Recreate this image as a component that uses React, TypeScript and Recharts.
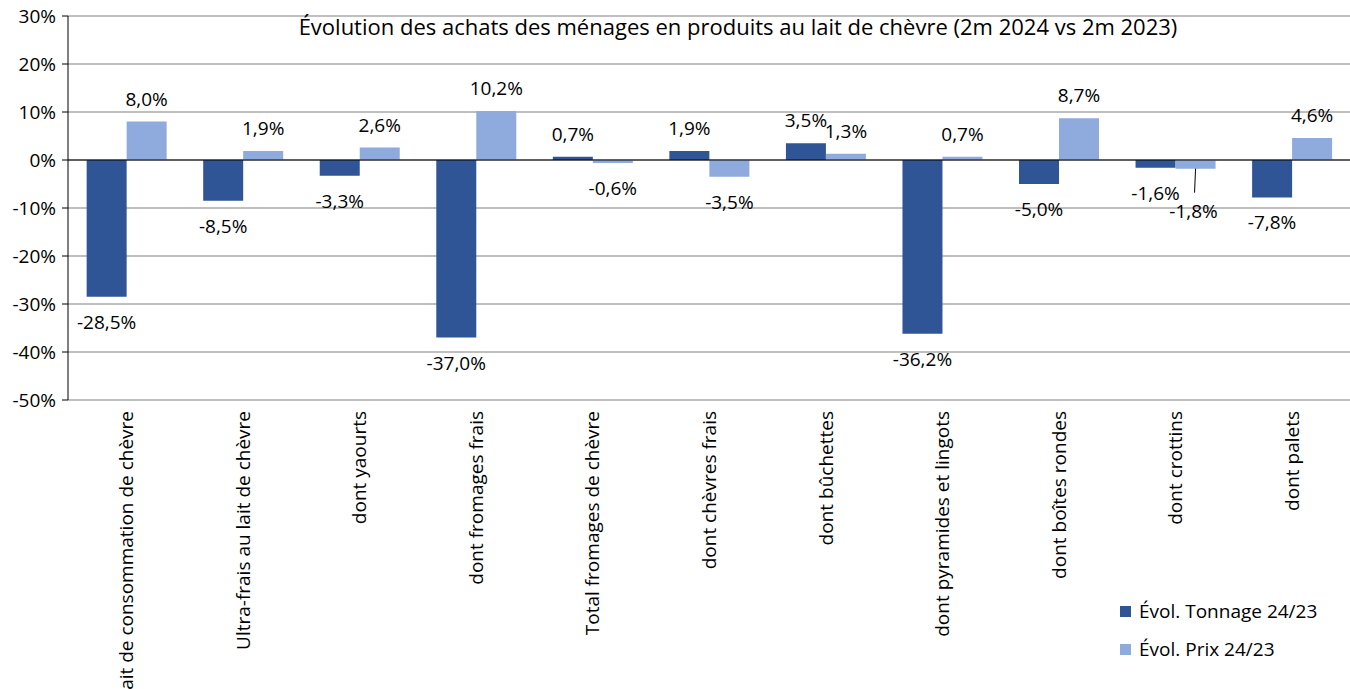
import { Bar, BarChart, CartesianGrid, LabelList, ReferenceLine, XAxis, YAxis } from "recharts";

const categories = [
  "Lait de consommation de chèvre",
  "Ultra-frais au lait de chèvre",
  "dont yaourts",
  "dont fromages frais",
  "Total fromages de chèvre",
  "dont chèvres frais",
  "dont bûchettes",
  "dont pyramides et lingots",
  "dont boîtes rondes",
  "dont crottins",
  "dont palets",
];
const tonnage = [-28.5, -8.5, -3.3, -37.0, 0.7, 1.9, 3.5, -36.2, -5.0, -1.6, -7.8];
const prix = [8.0, 1.9, 2.6, 10.2, -0.6, -3.5, 1.3, 0.7, 8.7, -1.8, 4.6];
const yTicks = [30, 20, 10, 0, -10, -20, -30, -40, -50];

const data = categories.map((name, i) => ({ name, tonnage: tonnage[i], prix: prix[i] }));

const FONT = "'Open Sans', sans-serif";
const DARK = "#2F5597";
const LIGHT = "#8FAADC";

function fmt(v: number) {
  return `${v.toFixed(1).replace(".", ",")}%`;
}

function ValueLabel(props: any) {
  const { x, y, width, height, value, index, series } = props;
  const cx = x + width / 2;
  const top = Math.min(y, y + height);
  const bottom = Math.max(y, y + height);
  // price label pushed down when it would collide with the tonnage label next to it
  const clash = series === "prix" && value < 0 && tonnage[index] < 0 && Math.abs(tonnage[index] - value) < 1;
  if (clash) {
    return (
      <g>
        <line x1={cx} y1={bottom} x2={cx - 1} y2={bottom + 24} stroke="#000" strokeWidth={1} />
        <text x={cx - 2} y={bottom + 49} textAnchor="middle" fontSize={19} fontFamily={FONT} fill="#000">
          {fmt(value)}
        </text>
      </g>
    );
  }
  const ty = value >= 0 ? top - 16 : bottom + 32;
  return (
    <text x={cx} y={ty} textAnchor="middle" fontSize={19} fontFamily={FONT} fill="#000">
      {fmt(value)}
    </text>
  );
}

function CategoryTick(props: any) {
  const { x, y, payload } = props;
  return (
    <text
      x={0}
      y={0}
      transform={`translate(${x + 7},${y + 3}) rotate(-90)`}
      textAnchor="end"
      fontSize={19}
      fontFamily={FONT}
      fill="#000"
    >
      {payload.value}
    </text>
  );
}

const legendItems = [
  { label: "Évol. Tonnage 24/23", color: DARK },
  { label: "Évol. Prix 24/23", color: LIGHT },
];

export default function App() {
  return (
    <div style={{ position: "absolute", left: 0, top: 0, width: 1350, height: 689, background: "#fff", overflow: "hidden" }}>
      <BarChart
        width={1350}
        height={689}
        data={data}
        margin={{ top: 16, right: 0, bottom: 0, left: 8 }}
        barCategoryGap="16%"
        barGap={0}
      >
        <CartesianGrid vertical={false} stroke="#BFBFBF" strokeWidth={2} />
        <XAxis
          dataKey="name"
          height={289}
          axisLine={false}
          tickLine={false}
          interval={0}
          tick={<CategoryTick />}
        />
        <YAxis
          domain={[-50, 30]}
          ticks={yTicks}
          width={60}
          tickFormatter={(v: number) => `${v}%`}
          axisLine={{ stroke: "#000" }}
          tickLine={{ stroke: "#000" }}
          tickSize={6}
          tickMargin={6}
          tick={{ fontSize: 19, fontFamily: FONT, fill: "#000" }}
        />
        <ReferenceLine y={0} stroke="#000" strokeWidth={1} />
        <Bar dataKey="tonnage" name="Évol. Tonnage 24/23" fill={DARK} isAnimationActive={false}>
          <LabelList dataKey="tonnage" content={<ValueLabel series="tonnage" />} />
        </Bar>
        <Bar dataKey="prix" name="Évol. Prix 24/23" fill={LIGHT} isAnimationActive={false}>
          <LabelList dataKey="prix" content={<ValueLabel series="prix" />} />
        </Bar>
      </BarChart>
      <div
        style={{
          position: "absolute",
          left: 0,
          top: 11,
          width: 1476,
          textAlign: "center",
          fontFamily: FONT,
          fontSize: 22,
          color: "#000",
        }}
      >
        Évolution des achats des ménages en produits au lait de chèvre (2m 2024 vs 2m 2023)
      </div>
      <div style={{ position: "absolute", left: 1120, top: 592, fontFamily: FONT, fontSize: 19 }}>
        {legendItems.map((it) => (
          <div key={it.label} style={{ display: "flex", alignItems: "center", height: 38 }}>
            <span style={{ width: 11, height: 11, background: it.color, marginRight: 8 }} />
            {it.label}
          </div>
        ))}
      </div>
    </div>
  );
}
